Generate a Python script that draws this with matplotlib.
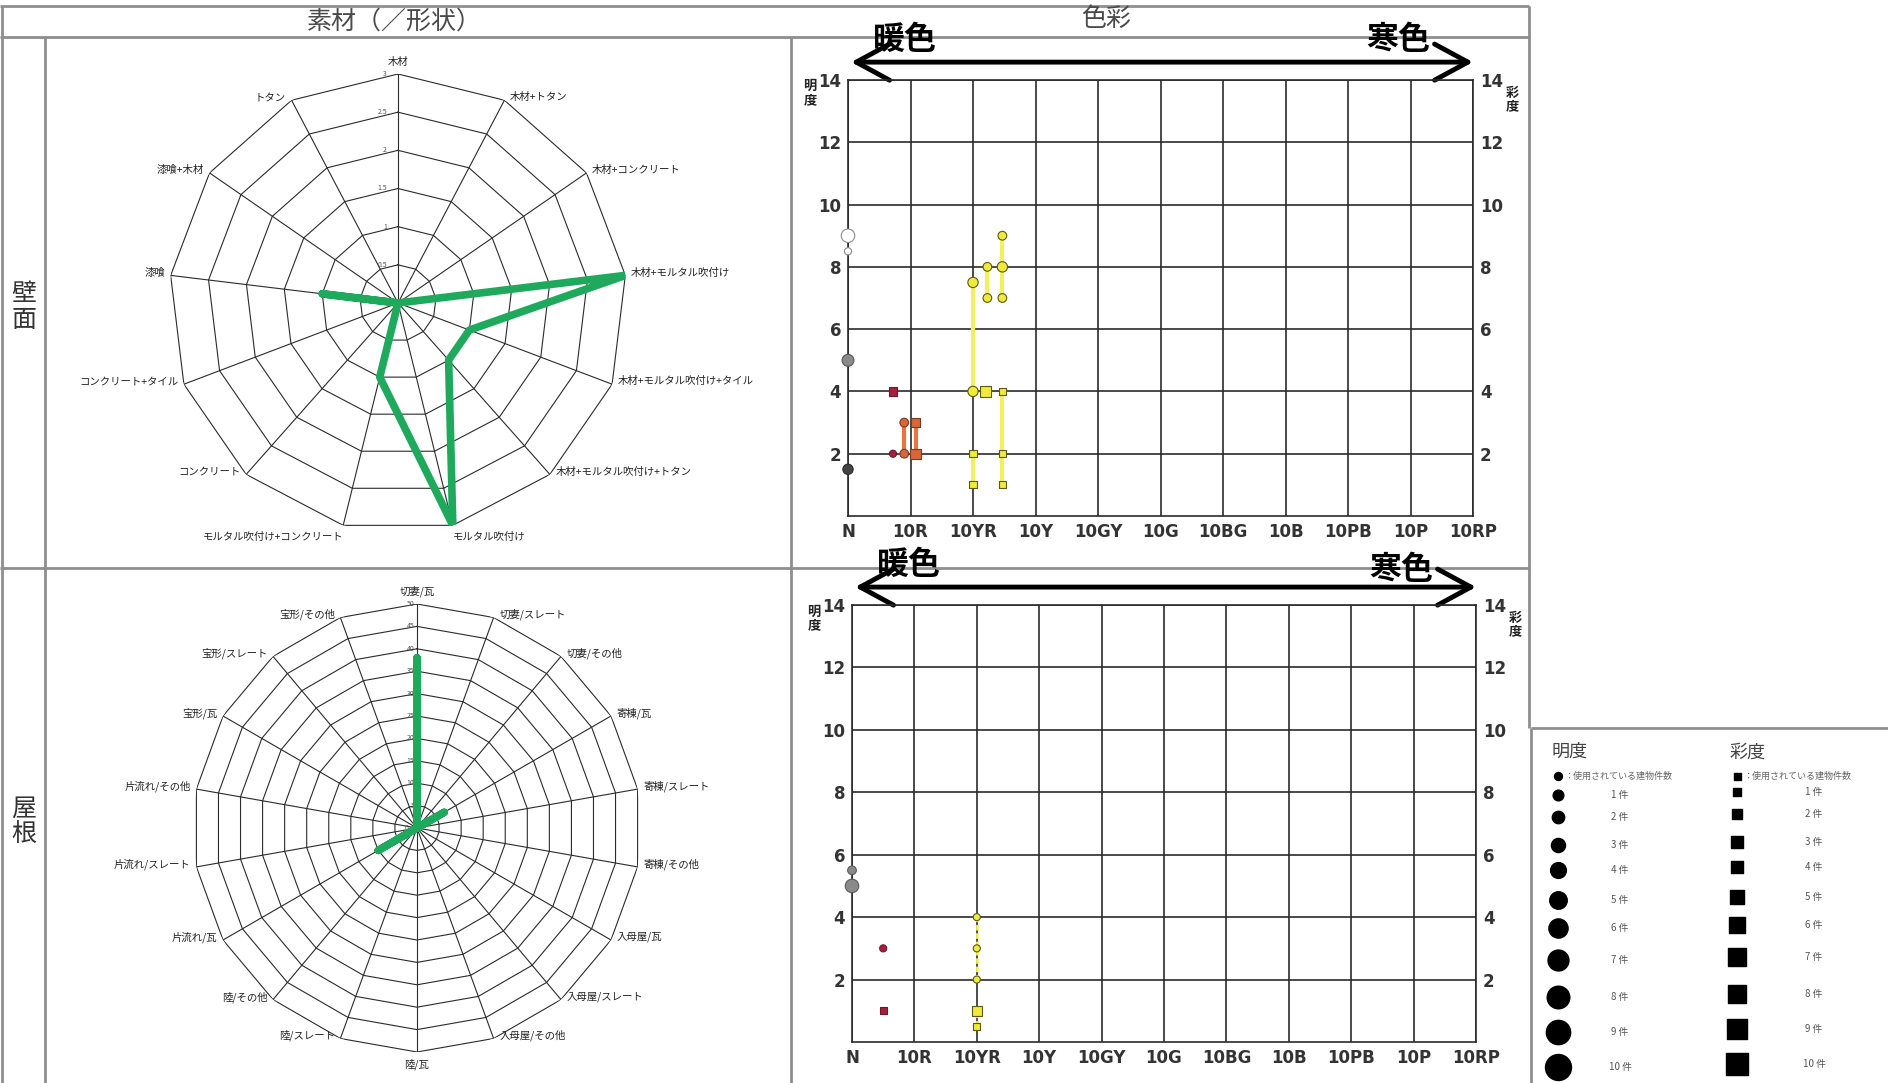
import matplotlib
matplotlib.use("Agg")
import matplotlib.pyplot as plt
import numpy as np
from matplotlib.patches import FancyArrowPatch

plt.rcParams["font.family"] = ["Noto Sans CJK JP", "DejaVu Sans"]

W, H = 1888, 1083

# ---- 素材（／形状） ----
WALL_CATEGORIES = [
    "木材", "木材+トタン", "木材+コンクリート", "木材+モルタル吹付け",
    "木材+モルタル吹付け+タイル", "木材+モルタル吹付け+トタン", "モルタル吹付け",
    "モルタル吹付け+コンクリート", "コンクリート", "コンクリート+タイル",
    "漆喰", "漆喰+木材", "トタン",
]
WALL_VALUES = [0, 0, 0, 3, 1, 1, 3, 1, 0, 0, 1, 0, 0]
WALL_RINGS = [0.5, 1, 1.5, 2, 2.5, 3]
WALL_RING_LABELS = ["0.5", "1", "1.5", "2", "2.5", "3"]

ROOF_CATEGORIES = [
    "切妻/瓦", "切妻/スレート", "切妻/その他", "寄棟/瓦", "寄棟/スレート", "寄棟/その他",
    "入母屋/瓦", "入母屋/スレート", "入母屋/その他", "陸/瓦", "陸/スレート", "陸/その他",
    "片流れ/瓦", "片流れ/スレート", "片流れ/その他", "宝形/瓦", "宝形/スレート", "宝形/その他",
]
ROOF_VALUES = [38, 0, 0, 7, 0, 0, 0, 0, 0, 0, 0, 0, 10, 0, 0, 0, 0, 0]
ROOF_RINGS = [5, 10, 15, 20, 25, 30, 35, 40, 45, 50]
ROOF_RING_LABELS = ["5", "10", "15", "20", "25", "30", "35", "40", "45", "50"]

# ---- 色彩 ----
HUE_LABELS = ["N", "10R", "10YR", "10Y", "10GY", "10G", "10BG", "10B", "10PB", "10P", "10RP"]
LEVEL_TICKS = [2, 4, 6, 8, 10, 12, 14]

# 壁面: 明度 (circles)
WALL_V_HUE = [0, 0, 0, 0, 0.72, 0.9, 0.9, 2.0, 2.0, 2.23, 2.23, 2.47, 2.47, 2.47]
WALL_V_LEVEL = [9, 8.5, 5, 1.5, 2, 3, 2, 7.5, 4, 8, 7, 9, 8, 7]
WALL_V_COUNT = [5, 1, 4, 3, 1, 2, 2, 3, 3, 2, 2, 2, 3, 2]
WALL_V_COLOR = ["white", "white", "gray", "dark", "crimson", "orange", "orange",
                "yellow", "yellow", "yellow", "yellow", "yellow", "yellow", "yellow"]
# 壁面: 彩度 (squares)
WALL_C_HUE = [0.72, 1.08, 1.08, 2.0, 2.0, 2.2, 2.47, 2.47, 2.47]
WALL_C_LEVEL = [4, 3, 2, 2, 1, 4, 4, 2, 1]
WALL_C_COUNT = [2, 2, 3, 1, 1, 3, 1, 1, 1]
WALL_C_COLOR = ["crimson", "orange", "orange", "yellow", "yellow", "yellow",
                "yellow", "yellow", "yellow"]

# 屋根: 明度 (circles)
ROOF_V_HUE = [0, 0, 0.5, 2.0, 2.0, 2.0]
ROOF_V_LEVEL = [5.5, 5, 3, 4, 3, 2]
ROOF_V_COUNT = [2, 5, 1, 1, 1, 1]
ROOF_V_COLOR = ["gray", "gray", "crimson", "yellow", "yellow", "yellow"]
# 屋根: 彩度 (squares)
ROOF_C_HUE = [0.5, 2.0, 2.0]
ROOF_C_LEVEL = [1, 1, 0.5]
ROOF_C_COUNT = [1, 3, 1]
ROOF_C_COLOR = ["crimson", "yellow", "yellow"]

LEGEND_COUNTS = [1, 2, 3, 4, 5, 6, 7, 8, 9, 10]
LEGEND_ROW_Y = [795, 817, 845, 870, 900, 928, 960, 997, 1032, 1067]

FILL = {"white": "#ffffff", "gray": "#8a8a8a", "dark": "#444444",
        "crimson": "#a3203e", "orange": "#d8663b", "yellow": "#f0ea38"}
EDGE = {"white": "#8a8a8a", "gray": "#5a5a5a", "dark": "#2a2a2a",
        "crimson": "#72162b", "orange": "#7e3a1e", "yellow": "#5a581a"}
LINK = {"orange": "#e8743e", "yellow": "#f4ef5e"}

GREEN = "#1fa95d"
GRID = "#2b2b2b"
TABLE = "#8e8e8e"

fig = plt.figure(figsize=(W / 100, H / 100), dpi=100)

# background in pixel coordinates for the table frame
bg = fig.add_axes([0, 0, 1, 1])
bg.set_xlim(0, W)
bg.set_ylim(H, 0)
bg.axis("off")


def frame_line(xs, ys):
    bg.plot(xs, ys, color=TABLE, lw=2, solid_capstyle="butt")


frame_line([0, 1529], [6, 6])
frame_line([0, 1529], [37, 37])
frame_line([0, 1529], [568, 568])
frame_line([2, 2], [6, H])
frame_line([45, 45], [37, H])
frame_line([791, 791], [37, H])
frame_line([1529, 1529], [6, 728])
frame_line([1531, W], [728, 728])
frame_line([1531, 1531], [728, H])

bg.text(394, 22, "素材（／形状）", fontsize=18, color="#4a4a4a", ha="center", va="center")
bg.text(1106, 19, "色彩", fontsize=18, color="#4a4a4a", ha="center", va="center")
bg.text(24, 307, "壁\n面", fontsize=18, color="#333333", ha="center", va="center", linespacing=1.0)
bg.text(24, 822, "屋\n根", fontsize=18, color="#333333", ha="center", va="center", linespacing=1.0)


def draw_radar(cx, cy, r, categories, values, rings, ring_labels, ring_dx):
    ax = fig.add_axes([(cx - r) / W, (H - cy - r) / H, 2 * r / W, 2 * r / H],
                      projection="polar")
    ax.set_theta_zero_location("N")
    ax.set_theta_direction(-1)
    rmax = rings[-1]
    ax.set_ylim(0, rmax)
    ax.axis("off")

    n = len(categories)
    theta = np.linspace(0, 2 * np.pi, n, endpoint=False)
    closed = np.append(theta, theta[0])

    for ring in rings:
        ax.plot(closed, [ring] * (n + 1), color=GRID, lw=0.8)
    for th in theta:
        ax.plot([th, th], [0, rmax], color=GRID, lw=0.8)

    for ring, lab in zip(rings, ring_labels):
        ax.annotate(lab, xy=(0, ring), xytext=(ring_dx, 0), textcoords="offset points",
                    ha="right", va="center", fontsize=5, color="#555555")
    ax.annotate("0", xy=(0, 0), xytext=(-6, 0), textcoords="offset points",
                ha="right", va="center", fontsize=5, color="#555555")

    ax.plot(closed, np.append(values, values[0]), color=GREEN, lw=5.5,
            solid_joinstyle="round", solid_capstyle="round", zorder=5)

    for th, cat in zip(theta, categories):
        s, c = np.sin(th), np.cos(th)
        if abs(s) >= 0.3:
            ha = "left" if s > 0 else "right"
            va = "center"
            off = (4 * np.sign(s), 2)
        elif c > 0:
            ha, va, off = "center", "bottom", (0, 5)
        else:
            ha = "center" if abs(s) < 0.05 else ("left" if s > 0 else "right")
            va, off = "top", (0, -5)
        ax.annotate(cat, xy=(th, rmax), xytext=off, textcoords="offset points",
                    ha=ha, va=va, fontsize=7.5, color="#222222", annotation_clip=False)
    return ax


draw_radar(398, 303, 229, WALL_CATEGORIES, WALL_VALUES, WALL_RINGS, WALL_RING_LABELS, -8)
draw_radar(417, 828, 224, ROOF_CATEGORIES, ROOF_VALUES, ROOF_RINGS, ROOF_RING_LABELS, -2)


def marker_size(count):
    return (0.72 * (5.5 + 1.6 * count)) ** 2


def link_columns(ax, hues, levels, colors, lw, ls):
    hues = np.asarray(hues)
    levels = np.asarray(levels)
    colors = np.asarray(colors)
    for h in np.unique(hues):
        for key, col in LINK.items():
            m = (hues == h) & (colors == key)
            if m.sum() > 1:
                ax.plot([h, h], [levels[m].min(), levels[m].max()], color=col, lw=lw,
                        ls=ls, zorder=3, clip_on=False, solid_capstyle="butt")


def draw_color_chart(rect, v_hue, v_level, v_count, v_color,
                     c_hue, c_level, c_count, c_color, link_lw, link_ls, warm_y, cold_y):
    ax = fig.add_axes(rect)
    ax.set_xlim(0, 10)
    ax.set_ylim(0, 14)
    ax.set_xticks(range(len(HUE_LABELS)))
    ax.set_xticklabels(HUE_LABELS)
    ax.set_yticks(LEVEL_TICKS)
    ax.grid(True, color=GRID, lw=1.2)
    ax.set_axisbelow(True)
    for sp in ax.spines.values():
        sp.set_color(GRID)
        sp.set_linewidth(1.2)
    ax.tick_params(axis="both", length=0)
    ax.tick_params(axis="y", labelleft=True, labelright=True, pad=5)
    ax.tick_params(axis="x", pad=5)
    for lab in ax.get_xticklabels() + ax.get_yticklabels():
        lab.set_family(["Liberation Sans Narrow", "DejaVu Sans"])
        lab.set_fontweight("bold")
        lab.set_fontsize(12)
        lab.set_color("#333333")

    link_columns(ax, v_hue, v_level, v_color, link_lw, link_ls)
    link_columns(ax, c_hue, c_level, c_color, link_lw, link_ls)

    ax.scatter(v_hue, v_level, s=[marker_size(c) for c in v_count], marker="o",
               c=[FILL[k] for k in v_color], edgecolors=[EDGE[k] for k in v_color],
               linewidths=0.8, zorder=4, clip_on=False)
    ax.scatter(c_hue, c_level, s=[marker_size(c) for c in c_count], marker="s",
               c=[FILL[k] for k in c_color], edgecolors=[EDGE[k] for k in c_color],
               linewidths=0.8, zorder=4, clip_on=False)

    arrow = FancyArrowPatch((0.005, 1.041), (1.0, 1.041), transform=ax.transAxes,
                            arrowstyle="<->,head_length=1.2,head_width=0.65",
                            mutation_scale=20, lw=3.5, color="black",
                            shrinkA=0, shrinkB=0, clip_on=False)
    ax.add_patch(arrow)
    ax.text(0.091, warm_y, "暖色", transform=ax.transAxes, fontsize=23, fontweight="bold",
            ha="center", va="center")
    ax.text(0.88, cold_y, "寒色", transform=ax.transAxes, fontsize=23, fontweight="bold",
            ha="center", va="center")
    ax.text(-0.061, 0.97, "明\n度", transform=ax.transAxes, fontsize=9.5, fontweight="bold",
            ha="center", va="center", linespacing=0.95, color="#222222")
    ax.text(1.063, 0.955, "彩\n度", transform=ax.transAxes, fontsize=9.5, fontweight="bold",
            ha="center", va="center", linespacing=0.95, color="#222222")
    return ax


draw_color_chart([848 / W, (H - 516) / H, 625 / W, 436 / H],
                 WALL_V_HUE, WALL_V_LEVEL, WALL_V_COUNT, WALL_V_COLOR,
                 WALL_C_HUE, WALL_C_LEVEL, WALL_C_COUNT, WALL_C_COLOR,
                 3.0, "-", 1.092, 1.092)
draw_color_chart([852 / W, (H - 1042) / H, 624 / W, 437 / H],
                 ROOF_V_HUE, ROOF_V_LEVEL, ROOF_V_COUNT, ROOF_V_COLOR,
                 ROOF_C_HUE, ROOF_C_LEVEL, ROOF_C_COUNT, ROOF_C_COLOR,
                 2.0, (0, (2, 1)), 1.092, 1.08)

# ---- legend box ----
bg.text(1552, 752, "明度", fontsize=13, color="#444444", ha="left", va="center")
bg.text(1730, 753, "彩度", fontsize=13, color="#444444", ha="left", va="center")
bg.scatter([1558], [776], s=(0.72 * 8) ** 2, marker="o", color="black", clip_on=False)
bg.scatter([1737], [776], s=(0.72 * 7) ** 2, marker="s", color="black", clip_on=False)
bg.text(1564, 776, "：使用されている建物件数", fontsize=6.5, color="#666666", ha="left", va="center")
bg.text(1743, 776, "：使用されている建物件数", fontsize=6.5, color="#666666", ha="left", va="center")

for n, y in zip(LEGEND_COUNTS, LEGEND_ROW_Y):
    bg.scatter([1558], [y], s=(0.72 * (9 + 1.7 * n)) ** 2, marker="o", color="black",
               clip_on=False)
    bg.scatter([1737], [y - 3], s=(0.72 * (6.5 + 1.55 * n)) ** 2, marker="s", color="black",
               clip_on=False)
    bg.text(1620, y, f"{n} 件", fontsize=7, color="#555555", ha="center", va="center")
    bg.text(1814, y - 3, f"{n} 件", fontsize=7, color="#555555", ha="center", va="center")

fig.savefig("out.png", dpi=100)
plt.close(fig)
